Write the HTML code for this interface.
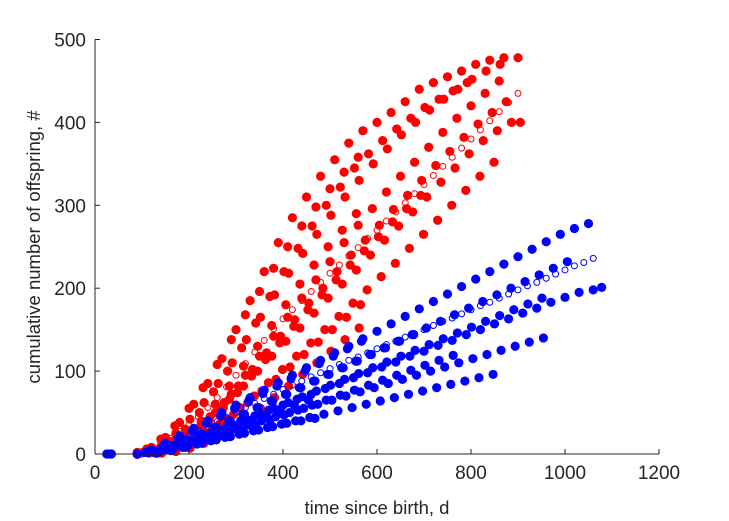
<!DOCTYPE html>
<html><head><meta charset="utf-8"><style>
html,body{margin:0;padding:0;background:#fff;}
svg{display:block;font-family:"Liberation Sans",Arial,sans-serif;}
</style></head><body>
<svg id="chart" width="729" height="521" viewBox="0 0 729 521" xmlns="http://www.w3.org/2000/svg">
<rect width="729" height="521" fill="#fff"/>
<g id="marks"></g>
<g id="axes"></g>
<text x="377" y="514" font-size="18.5" fill="#262626" text-anchor="middle">time since birth, d</text>
<text transform="translate(40,247) rotate(-90)" font-size="18.5" fill="#262626" text-anchor="middle">cumulative number of offspring, #</text>
</svg>
<script>
const xTicks=[0,200,400,600,800,1000,1200];
const yTicks=[0,100,200,300,400,500];
const redTimes=[90,120,150,180,210,240,270,300,330,360,390,420,450,480,510,540,570,600,630,660,690,720,750,780,810,840,870,900];
const redOffsets=[0,12,-8,20,5,-14,9,-5,16,-10,3,22];
const red1=[2,8,20,38,60,85,115,150,185,220,255,285,310,335,355,375,390,400,412,425,440,448,455,462,470,475,478,478];
const red2=[1,5,15,30,50,75,100,128,158,190,220,248,275,300,322,345,362,378,392,405,418,428,438,448];
const red3=[0,4,12,25,42,62,85,110,138,165,192,218,242,265,288,310,330,350,368,385,400,415,428,440,452,462,470];
const red4=[0,3,10,20,35,52,72,95,118,142,165,188,210,232,255,276,296,316,335,352,370,388,405,420,435,450];
const red5=[0,2,8,17,30,45,62,82,102,122,142,162,182,200,220,240,258,276,295,312,330,348,365,382,398,412,425,400];
const red6=[0,2,6,14,24,36,50,66,82,100,118,136,152,170,188,205,222,240,258,275,292,310,328,345,362,378,390,400];
const red7=[0,1,5,11,20,30,42,56,70,86,102,118,134,150,166,182,198,214,230,248,265,282,300,318,335,352];
const red8=[0,1,4,9,16,25,36,48,62,76,90,105,120,135,150,165,180];
const red9=[0,3,11,24,40,60,82,106,130,155,180,205,228,250,270,290];
const red10=[1,6,18,34,55,80,108,138,168,196,224,250,275,298,320,340,358];
const red11=[0,2,7,15,26,40,56,74,94,114,134,154,174,192,210,228,245,262,280,296,312];
const red12=[0,1,3,7,13,21,31,42,55,68,82,96,110,124,138,152];
const redMeanTimes=[100,120,140,160,180,200,220,240,260,280,300,320,340,360,380,400,420,440,460,480,500,520,540,560,580,600,620,640,660,680,700,720,740,760,780,800,820,840,860,880,900];
const redMean=[3,7,12,19,27,35,45,56,68,81,95,109,123,137,151,163,174,185,196,207,218,228,239,249,260,270,281,292,303,314,325,336,347,358,369,380,391,402,413,424,435];
const blueTimes=[90,120,150,180,210,240,270,300,330,360,390,420,450,480,510,540,570,600,630,660,690,720,750,780,810,840,870,900,930,960,990,1020,1050,1068];
const blueOffsets=[0,10,-6,15,-12,7,18,-3,12,4,-9];
const blue1=[0,5,13,22,31,40,50,59,68,77,86,95,104,113,122,130,139,148,157,166,175,184,193,202,211,220,229,238,247,256,265,272,278];
const blue2=[0,3,8,14,20,27,33,40,46,53,59,66,72,79,85,92,98,105,111,118,124,131,137,144,150,157,163,170,176,183,189,195,198,201];
const blue3=[0,2,6,10,15,20,25,30,35,40,45,50,55,60,65,70,75,80,85,90,95,100,105,110,115,120,125,130,135,140];
const blue5=[0,4,10,17,24,32,40,48,56,64,72,80,88,96,104,112,120,128,136,144,152,160,168,176,184,192,200,208,216,224,232];
const blue6=[0,2,4,7,10,13,17,21,25,29,33,37,40,43];
const blue7=[0,2,5,8,12,16,20,24,28,32,36,40,44,48,52,56,60,64,68,72,76,80,84,88,92,96];
const blue8=[0,3,9,16,24,32,40,48,56,64,72,80,88,96,104,112,120,128,136,144];
const blue9=[0,4,11,19,28,37,46,55,64,73,82,91,100,109,118,127,136];
const blue10=[0,1,4,8,13,18,23,29,35,41,47,53,59,65,71,77,83,89,95,101,107,113,119];
const blue11=[0,3,7,12,17,23,29,35,41,47,53,59,65];
const blue12=[0,2,6,11,16,22,28,34,41,48,55,62,69,76,83,90,97,104,111,118,125,132,139,146,153,160,167,174,181,188];
const blueEarlyTimes=[25,30,35];
const blueEarly=[0,0,0];
const blueMeanTimes=[100,120,140,160,180,200,220,240,260,280,300,320,340,360,380,400,420,440,460,480,500,520,540,560,580,600,620,640,660,680,700,720,740,760,780,800,820,840,860,880,900,920,940,960,980,1000,1020,1040,1060];
const blueMean=[0,3,7,11,17,22,28,33,39,44,50,56,61,67,72,78,83,88,93,98,103,108,113,117,122,127,132,136,141,145,150,155,160,164,169,174,179,183,188,193,198,203,207,212,217,222,227,231,236];

const X0=95,X1=659,Y0=454,Y1=39.5;
function xs(v){return X0+(v-0)/(1200-0)*(X1-X0);}
function ys(v){return Y0-(v-0)/(500-0)*(Y0-Y1);}
const NS="http://www.w3.org/2000/svg";
const marks=document.getElementById('marks');
const axes=document.getElementById('axes');

function dots(times,off,vals,color,name){
  for(let i=0;i<vals.length&&i<times.length;i++){
    const c=document.createElementNS(NS,'circle');
    c.setAttribute('cx',xs(times[i]+(i===0?0:off)));c.setAttribute('cy',ys(vals[i]));
    c.setAttribute('r',4.6);c.setAttribute('fill',color);
    
    
    marks.appendChild(c);
  }
}
function opens(times,vals,color,name){
  for(let i=0;i<vals.length&&i<times.length;i++){
    const c=document.createElementNS(NS,'circle');
    c.setAttribute('cx',xs(times[i]));c.setAttribute('cy',ys(vals[i]));
    c.setAttribute('r',3);c.setAttribute('fill','none');c.setAttribute('stroke',color);c.setAttribute('stroke-width',1);
    
    
    marks.appendChild(c);
  }
}
[red1,red2,red3,red4,red5,red6,red7,red8,red9,red10,red11,red12].forEach((a,k)=>dots(redTimes,redOffsets[k],a,'#ff0000','red-point'));
opens(redMeanTimes,redMean,'#ff0000','red-mean-point');
dots(blueEarlyTimes,0,blueEarly,'#0000ff','blue-point');
[blue1,blue2,blue3,blue5,blue6,blue7,blue8,blue9,blue10,blue11,blue12].forEach((a,k)=>dots(blueTimes,blueOffsets[k],a,'#0000ff','blue-point'));
opens(blueMeanTimes,blueMean,'#0000ff','blue-mean-point');

function line(x1,y1,x2,y2,name){
  const l=document.createElementNS(NS,'line');
  l.setAttribute('x1',x1);l.setAttribute('y1',y1);l.setAttribute('x2',x2);l.setAttribute('y2',y2);
  l.setAttribute('stroke','#262626');l.setAttribute('stroke-width',1);
  
  
  axes.appendChild(l);
}
function label(x,y,t,anchor,name){
  const e=document.createElementNS(NS,'text');
  e.setAttribute('x',x);e.setAttribute('y',y);e.setAttribute('font-size',19);
  e.setAttribute('fill','#262626');e.setAttribute('text-anchor',anchor);
  e.textContent=t;
  
  
  axes.appendChild(e);
}
line(X0,Y0,X1,Y0,'x-axis-line');
line(X0,Y0,X0,Y1,'y-axis-line');
xTicks.forEach(v=>{line(xs(v),Y0,xs(v),Y0-5,'x-tick');label(xs(v),Y0+25,String(v),'middle','x-tick-label');});
yTicks.forEach(v=>{line(X0,ys(v),X0+5,ys(v),'y-tick');label(X0-9,ys(v)+7,String(v),'end','y-tick-label');});
</script>
</body></html>
